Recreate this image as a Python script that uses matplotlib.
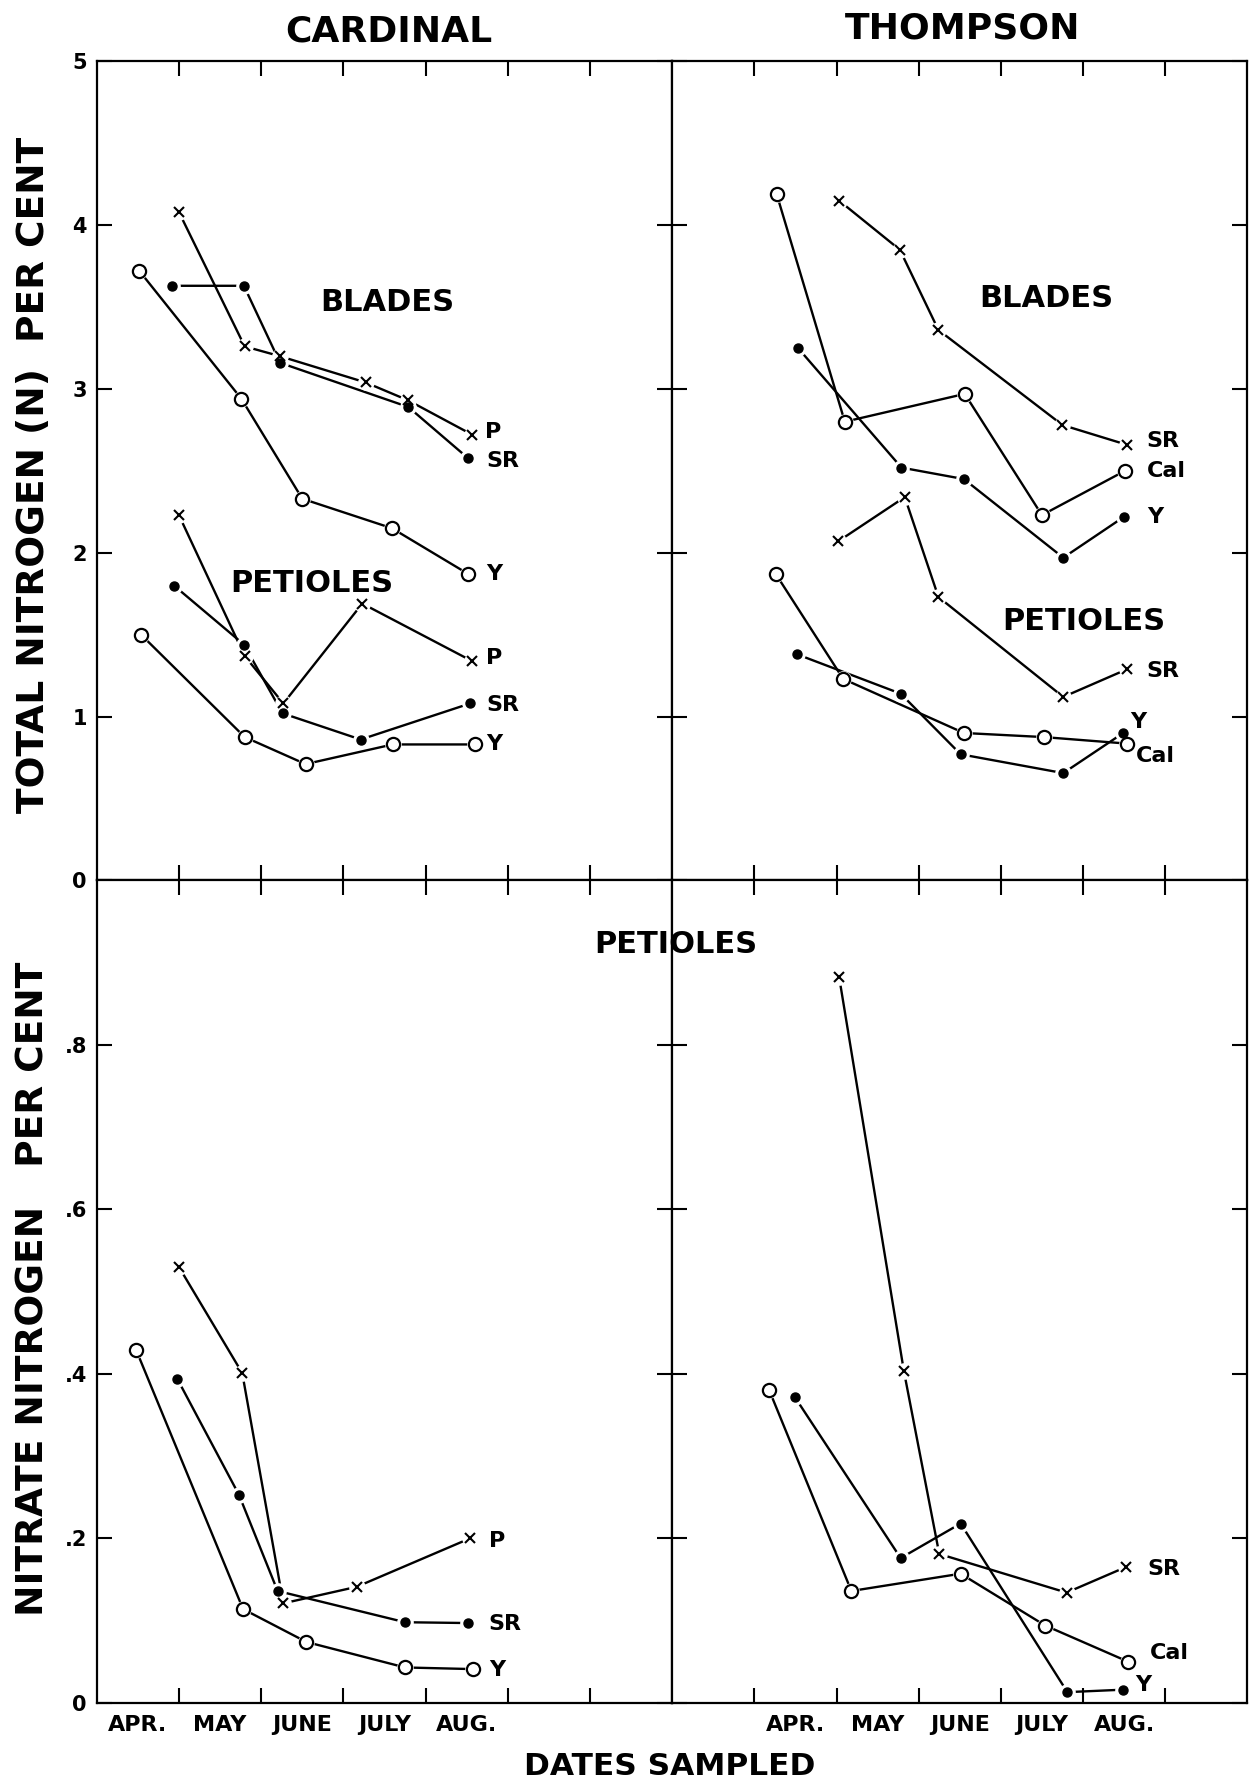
import matplotlib.pyplot as plt

# x positions in month-interval units: each panel runs 0..7 with tick marks at 1..6
months = ['APR.', 'MAY', 'JUNE', 'JULY', 'AUG.']
card_month_pos = [0.5, 1.5, 2.5, 3.5, 4.5]
thom_month_pos = [1.5, 2.5, 3.5, 4.5, 5.5]

# CARDINAL - total nitrogen, blades
card_blade_p_x = [1.0, 1.80, 2.23, 3.27, 3.79, 4.57]
card_blade_p_y = [4.08, 3.26, 3.20, 3.04, 2.93, 2.72]
card_blade_sr_x = [0.91, 1.79, 2.23, 3.79, 4.51]
card_blade_sr_y = [3.63, 3.63, 3.16, 2.89, 2.58]
card_blade_y_x = [0.52, 1.76, 2.50, 3.59, 4.52]
card_blade_y_y = [3.72, 2.94, 2.33, 2.15, 1.87]

# CARDINAL - total nitrogen, petioles
card_pet_p_x = [1.0, 1.80, 2.27, 3.23, 4.56]
card_pet_p_y = [2.23, 1.37, 1.08, 1.69, 1.34]
card_pet_sr_x = [0.94, 1.79, 2.26, 3.21, 4.54]
card_pet_sr_y = [1.80, 1.44, 1.02, 0.86, 1.08]
card_pet_y_x = [0.54, 1.80, 2.54, 3.60, 4.60]
card_pet_y_y = [1.50, 0.875, 0.71, 0.83, 0.83]

# THOMPSON - total nitrogen, blades
thom_blade_sr_x = [2.03, 2.77, 3.24, 4.75, 5.53]
thom_blade_sr_y = [4.15, 3.85, 3.36, 2.78, 2.66]
thom_blade_cal_x = [1.27, 2.10, 3.56, 4.50, 5.51]
thom_blade_cal_y = [4.19, 2.80, 2.97, 2.23, 2.50]
thom_blade_y_x = [1.53, 2.79, 3.55, 4.76, 5.50]
thom_blade_y_y = [3.25, 2.52, 2.45, 1.97, 2.22]

# THOMPSON - total nitrogen, petioles
thom_pet_sr_x = [2.02, 2.83, 3.24, 4.76, 5.54]
thom_pet_sr_y = [2.07, 2.34, 1.73, 1.12, 1.29]
thom_pet_cal_x = [1.26, 2.08, 3.55, 4.52, 5.54]
thom_pet_cal_y = [1.87, 1.23, 0.90, 0.875, 0.835]
thom_pet_y_x = [1.52, 2.78, 3.51, 4.76, 5.49]
thom_pet_y_y = [1.38, 1.14, 0.77, 0.655, 0.90]

# CARDINAL - nitrate nitrogen, petioles
card_no3_p_x = [1.0, 1.77, 2.27, 3.16, 4.54]
card_no3_p_y = [0.530, 0.401, 0.121, 0.141, 0.200]
card_no3_sr_x = [0.98, 1.73, 2.20, 3.75, 4.52]
card_no3_sr_y = [0.394, 0.253, 0.136, 0.098, 0.097]
card_no3_y_x = [0.48, 1.78, 2.55, 3.75, 4.58]
card_no3_y_y = [0.429, 0.114, 0.074, 0.043, 0.041]

# THOMPSON - nitrate nitrogen, petioles
thom_no3_sr_x = [2.03, 2.82, 3.25, 4.80, 5.52]
thom_no3_sr_y = [0.883, 0.403, 0.181, 0.134, 0.165]
thom_no3_cal_x = [1.18, 2.18, 3.51, 4.54, 5.55]
thom_no3_cal_y = [0.380, 0.136, 0.157, 0.094, 0.050]
thom_no3_y_x = [1.49, 2.78, 3.51, 4.81, 5.49]
thom_no3_y_y = [0.372, 0.176, 0.218, 0.013, 0.016]

top_ticks = [0, 1, 2, 3, 4, 5]
top_labels = ['0', '1', '2', '3', '4', '5']
bot_ticks = [0, 0.2, 0.4, 0.6, 0.8]
bot_labels = ['0', '.2', '.4', '.6', '.8']

plt.rcParams['font.family'] = 'DejaVu Sans'

fig = plt.figure(figsize=(12.49, 17.84), dpi=100)

ax_tl = fig.add_axes([0.0774, 0.5065, 0.4609, 0.4591])
ax_tr = fig.add_axes([0.5383, 0.5065, 0.4603, 0.4591])
ax_bl = fig.add_axes([0.0774, 0.0455, 0.4609, 0.4610])
ax_br = fig.add_axes([0.5383, 0.0455, 0.4603, 0.4610])


def setup(ax, ymax, yt, ylab, mpos, show_y):
    ax.set_xlim(0, 7)
    ax.set_ylim(0, ymax)
    for s in ax.spines.values():
        s.set_linewidth(1.6)
    ax.set_xticks(range(1, 7))
    ax.set_xticklabels([])
    ax.set_yticks(yt)
    ax.tick_params(which='major', direction='in', length=11, width=1.5,
                   top=True, bottom=True, left=True, right=True,
                   labelsize=15, pad=7)
    if show_y:
        ax.set_yticklabels(ylab, fontweight='bold')
    else:
        ax.set_yticklabels([])
    if mpos is not None:
        ax.set_xticks(mpos, minor=True)
        ax.set_xticklabels(months, minor=True, fontsize=16, fontweight='bold')
        ax.tick_params(which='minor', length=0, pad=9, top=False, bottom=True)


def draw(ax, x, y, kind):
    ax.plot(x, y, color='black', lw=1.7, zorder=2)
    # white halo so lines stop short of the symbols
    ax.plot(x, y, ls='none', marker='o', ms=12, mfc='white', mec='none', zorder=3)
    if kind == 'circle':
        ax.plot(x, y, ls='none', marker='o', ms=9.5, mfc='white', mec='black', mew=1.6, zorder=4)
    elif kind == 'dot':
        ax.plot(x, y, ls='none', marker='o', ms=6.5, mfc='black', mec='black', zorder=4)
    else:
        ax.plot(x, y, ls='none', marker='x', ms=6.5, mec='black', mew=1.5, zorder=4)


setup(ax_tl, 5, top_ticks, top_labels, None, True)
setup(ax_tr, 5, top_ticks, top_labels, None, False)
setup(ax_bl, 1.0, bot_ticks, bot_labels, card_month_pos, True)
setup(ax_br, 1.0, bot_ticks, bot_labels, thom_month_pos, False)

draw(ax_tl, card_blade_p_x, card_blade_p_y, 'x')
draw(ax_tl, card_blade_sr_x, card_blade_sr_y, 'dot')
draw(ax_tl, card_blade_y_x, card_blade_y_y, 'circle')
draw(ax_tl, card_pet_p_x, card_pet_p_y, 'x')
draw(ax_tl, card_pet_sr_x, card_pet_sr_y, 'dot')
draw(ax_tl, card_pet_y_x, card_pet_y_y, 'circle')

draw(ax_tr, thom_blade_sr_x, thom_blade_sr_y, 'x')
draw(ax_tr, thom_blade_cal_x, thom_blade_cal_y, 'circle')
draw(ax_tr, thom_blade_y_x, thom_blade_y_y, 'dot')
draw(ax_tr, thom_pet_sr_x, thom_pet_sr_y, 'x')
draw(ax_tr, thom_pet_cal_x, thom_pet_cal_y, 'circle')
draw(ax_tr, thom_pet_y_x, thom_pet_y_y, 'dot')

draw(ax_bl, card_no3_p_x, card_no3_p_y, 'x')
draw(ax_bl, card_no3_sr_x, card_no3_sr_y, 'dot')
draw(ax_bl, card_no3_y_x, card_no3_y_y, 'circle')

draw(ax_br, thom_no3_sr_x, thom_no3_sr_y, 'x')
draw(ax_br, thom_no3_cal_x, thom_no3_cal_y, 'circle')
draw(ax_br, thom_no3_y_x, thom_no3_y_y, 'dot')

lab = dict(fontsize=16, fontweight='bold', va='center', ha='left')
big = dict(fontsize=22, fontweight='bold', va='center', ha='center')

# series labels
ax_tl.text(4.72, 2.74, 'P', **lab)
ax_tl.text(4.74, 2.56, 'SR', **lab)
ax_tl.text(4.74, 1.87, 'Y', **lab)
ax_tl.text(4.74, 1.36, 'P', **lab)
ax_tl.text(4.74, 1.07, 'SR', **lab)
ax_tl.text(4.74, 0.83, 'Y', **lab)
ax_tl.text(3.53, 3.53, 'BLADES', **big)
ax_tl.text(2.61, 1.81, 'PETIOLES', **big)

ax_tr.text(5.77, 2.68, 'SR', **lab)
ax_tr.text(5.78, 2.50, 'Cal', **lab)
ax_tr.text(5.78, 2.22, 'Y', **lab)
ax_tr.text(5.77, 1.28, 'SR', **lab)
ax_tr.text(5.57, 0.97, 'Y', **lab)
ax_tr.text(5.64, 0.76, 'Cal', **lab)
ax_tr.text(4.55, 3.55, 'BLADES', **big)
ax_tr.text(5.01, 1.58, 'PETIOLES', **big)

ax_bl.text(4.77, 0.197, 'P', **lab)
ax_bl.text(4.76, 0.096, 'SR', **lab)
ax_bl.text(4.77, 0.040, 'Y', **lab)

ax_br.text(5.78, 0.1625, 'SR', **lab)
ax_br.text(5.82, 0.061, 'Cal', **lab)
ax_br.text(5.64, 0.022, 'Y', **lab)

fig.text(0.541, 0.4707, 'PETIOLES', **big)
fig.text(0.3115, 0.9821, 'CARDINAL', fontsize=26, fontweight='bold', ha='center', va='center')
fig.text(0.7705, 0.9840, 'THOMPSON', fontsize=26, fontweight='bold', ha='center', va='center')
fig.text(0.5364, 0.0096, 'DATES SAMPLED', fontsize=22.5, fontweight='bold', ha='center', va='center')
fig.text(0.027, 0.7337, 'TOTAL NITROGEN (N)  PER CENT', fontsize=27, fontweight='bold',
         rotation=90, ha='center', va='center')
fig.text(0.027, 0.2777, 'NITRATE NITROGEN   PER CENT', fontsize=27, fontweight='bold',
         rotation=90, ha='center', va='center')

fig.savefig('out.png', dpi=100)
